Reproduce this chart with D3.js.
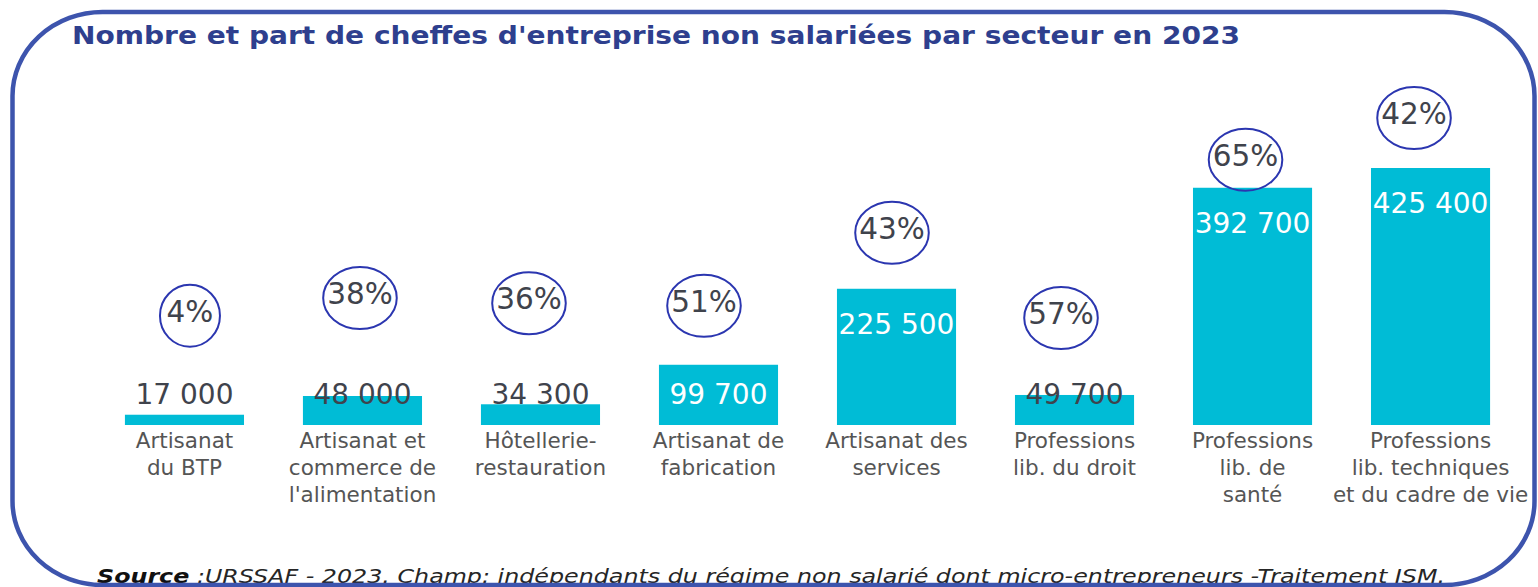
<!DOCTYPE html>
<html>
<head>
<meta charset="utf-8">
<script src="https://cdn.jsdelivr.net/npm/d3@7"></script>
<style>
  html, body { margin: 0; padding: 0; background: #ffffff; }
  svg { display: block; }
</style>
</head>
<body>
<svg id="chart" width="1538" height="587"></svg>
<script>
// ---- data ----
const categories = [
  "Artisanat\ndu BTP",
  "Artisanat et\ncommerce de\nl'alimentation",
  "Hôtellerie-\nrestauration",
  "Artisanat de\nfabrication",
  "Artisanat des\nservices",
  "Professions\nlib. du droit",
  "Professions\nlib. de\nsanté",
  "Professions\nlib. techniques\net du cadre de vie"
];
const counts = [17000, 48000, 34300, 99700, 225500, 49700, 392700, 425400];
const shares = [4, 38, 36, 51, 43, 57, 65, 42];
const countLabels = ["17 000", "48 000", "34 300", "99 700", "225 500", "49 700", "392 700", "425 400"];
const titleText = "Nombre et part de cheffes d'entreprise non salariées par secteur en 2023";
const sourceBold = "Source";
const sourceRest = " :URSSAF - 2023. Champ: indépendants du régime non salarié  dont micro-entrepreneurs -Traitement ISM.";

// ---- layout (annotation placement, hand-positioned in the original) ----
const circleDx = [5.5, -2.5, -11.5, -14.5, -4.5, -13.5, -7, -16.5];
const circleLift = [99, 98, 101, 59, 56, 77, 28, 50];

const svg = d3.select("#chart");
const W = 1538, H = 587;
svg.append("rect").attr("width", W).attr("height", H).attr("fill", "#ffffff");

const x = d3.scaleBand().domain(categories).range([66, 1549]).padding(0.331);
const y = d3.scaleLinear().domain([0, 425400]).range([425, 168]);

const barColor = "#00bcd6";
const darkText = "#3f434c";
const font = "'DejaVu Sans', Verdana, sans-serif";

// title
svg.append("text")
  .attr("x", 72).attr("y", 44)
  .attr("font-family", font).attr("font-weight", "bold").attr("font-size", 24.5)
  .attr("fill", "#2e3f8e")
  .attr("textLength", 1168).attr("lengthAdjust", "spacingAndGlyphs")
  .text(titleText);

// bars
const data = categories.map((c, i) => ({ c, v: counts[i], p: shares[i], lab: countLabels[i], i }));
svg.append("g").selectAll("rect").data(data).join("rect")
  .attr("x", d => x(d.c))
  .attr("y", d => y(d.v))
  .attr("width", x.bandwidth())
  .attr("height", d => y(0) - y(d.v))
  .attr("fill", barColor);

// value labels
const labelMaxBase = y(0) - 21;
svg.append("g").selectAll("text").data(data).join("text")
  .attr("x", d => x(d.c) + x.bandwidth() / 2)
  .attr("y", d => Math.min(y(d.v) + 45, labelMaxBase))
  .attr("text-anchor", "middle")
  .attr("font-family", font).attr("font-size", 28)
  .attr("fill", d => (y(0) - y(d.v)) > 45 ? "#ffffff" : darkText)
  .text(d => d.lab);

// category labels
const catG = svg.append("g");
data.forEach(d => {
  const lines = d.c.split("\n");
  const t = catG.append("text")
    .attr("x", x(d.c) + x.bandwidth() / 2)
    .attr("y", 448)
    .attr("text-anchor", "middle")
    .attr("font-family", font).attr("font-size", 21.5)
    .attr("fill", "#555555");
  lines.forEach((ln, k) => {
    t.append("tspan").attr("x", x(d.c) + x.bandwidth() / 2).attr("dy", k === 0 ? 0 : 27).text(ln);
  });
});

// share annotations (ellipses)
const annG = svg.append("g");
data.forEach(d => {
  const cx = x(d.c) + x.bandwidth() / 2 + circleDx[d.i];
  const cy = y(d.v) - circleLift[d.i];
  const txt = d.p + "%";
  const t = annG.append("text")
    .attr("x", cx).attr("y", cy + 6)
    .attr("text-anchor", "middle")
    .attr("font-family", font).attr("font-size", 29.5)
    .attr("fill", darkText)
    .text(txt);
  const w = t.node().getComputedTextLength();
  annG.insert("ellipse", "text")
    .attr("cx", cx).attr("cy", cy)
    .attr("rx", Math.max(30, w / 2 + 4)).attr("ry", 31)
    .attr("fill", "none").attr("stroke", "#2b36b0").attr("stroke-width", 2);
});

// source
const src = svg.append("text")
  .attr("x", 97).attr("y", 583)
  .attr("font-family", font).attr("font-size", 20).attr("font-style", "italic")
  .attr("fill", "#262626").attr("text-decoration", "underline")
  .attr("textLength", 1348).attr("lengthAdjust", "spacingAndGlyphs");
src.append("tspan").attr("font-weight", "bold").attr("fill", "#111").text(sourceBold);
src.append("tspan").text(sourceRest);

// rounded frame
svg.append("rect")
  .attr("x", 12.5).attr("y", 12).attr("width", 1522).attr("height", 573)
  .attr("rx", 90).attr("ry", 84)
  .attr("fill", "none").attr("stroke", "#3d54ad").attr("stroke-width", 4.5);
</script>
</body>
</html>
